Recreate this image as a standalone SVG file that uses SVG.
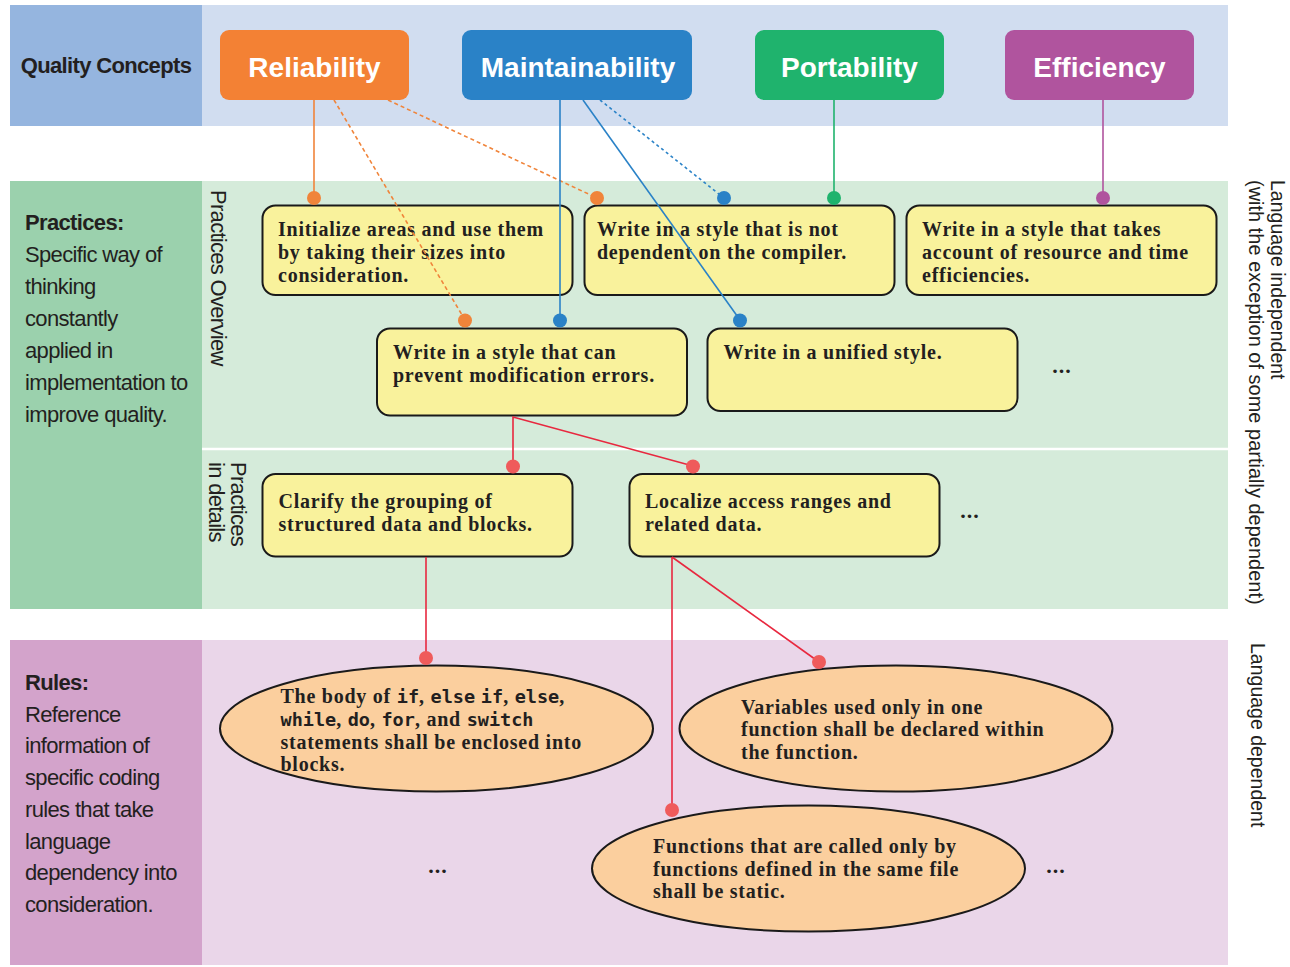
<svg xmlns="http://www.w3.org/2000/svg" width="1290" height="967" viewBox="0 0 1290 967">
<style>
.side{font-family:"Liberation Sans",Arial,sans-serif;font-size:22px;letter-spacing:-0.65px;fill:#231f20}
.b{font-weight:bold}
.concept{font-family:"Liberation Sans",Arial,sans-serif;font-size:28px;font-weight:bold;fill:#ffffff;text-anchor:middle}
.box{fill:#f9f29c;stroke:#1a1a1a;stroke-width:2}
.ell{fill:#fbcf9e;stroke:#1a1a1a;stroke-width:2}
.t{font-family:"Liberation Serif","Times New Roman",serif;font-size:20px;font-weight:bold;letter-spacing:0.75px;fill:#231f20}
.m{font-family:"DejaVu Sans Mono","Liberation Mono",monospace;font-size:18.5px;letter-spacing:0px}
.rot{font-family:"Liberation Sans",Arial,sans-serif;font-size:20px;fill:#231f20}
.dots{font-family:"Liberation Serif",serif;font-size:22px;font-weight:bold;fill:#231f20;text-anchor:middle;letter-spacing:1px}
.c-or{stroke:#f0843a;stroke-width:1.6;fill:none}
.c-bl{stroke:#2a82c7;stroke-width:1.6;fill:none}
.c-gr{stroke:#1fb36d;stroke-width:1.6;fill:none}
.c-pu{stroke:#b0549e;stroke-width:1.6;fill:none}
.c-rd{stroke:#e8283f;stroke-width:1.6;fill:none}
.dash{stroke-dasharray:4 3}
.dot{stroke-dasharray:3 3}
</style>

<!-- Bands -->
<g id="bands">
  <rect x="10" y="5" width="192" height="121" fill="#95b5df"/>
  <rect x="202" y="5" width="1026" height="121" fill="#d1ddf0"/>
  <rect x="10" y="181" width="192" height="428" fill="#9bd1ad"/>
  <rect x="202" y="181" width="1026" height="428" fill="#d5ebda"/>
  <line x1="202" y1="449" x2="1228" y2="449" stroke="#ffffff" stroke-width="2.5"/>
  <rect x="10" y="640" width="192" height="325" fill="#d3a3cb"/>
  <rect x="202" y="640" width="1026" height="325" fill="#ead6e9"/>
</g>

<!-- Side labels -->
<g id="label-quality">
  <text class="side b" x="106" y="73" text-anchor="middle">Quality Concepts</text>
</g>
<g id="label-practices">
  <text class="side b" x="25" y="230">Practices:</text>
  <text class="side" x="25" y="262">Specific way of</text>
  <text class="side" x="25" y="294">thinking</text>
  <text class="side" x="25" y="326">constantly</text>
  <text class="side" x="25" y="358">applied in</text>
  <text class="side" x="25" y="390">implementation to</text>
  <text class="side" x="25" y="422">improve quality.</text>
</g>
<g id="label-rules">
  <text class="side b" x="25" y="690">Rules:</text>
  <text class="side" x="25" y="721.7">Reference</text>
  <text class="side" x="25" y="753.4">information of</text>
  <text class="side" x="25" y="785.1">specific coding</text>
  <text class="side" x="25" y="816.8">rules that take</text>
  <text class="side" x="25" y="848.5">language</text>
  <text class="side" x="25" y="880.2">dependency into</text>
  <text class="side" x="25" y="912">consideration.</text>
</g>
<g id="label-overview">
  <text class="side" transform="translate(211,190) rotate(90)" style="letter-spacing:-0.7px">Practices Overview</text>
</g>
<g id="label-details">
  <text class="side" transform="translate(231,462) rotate(90)" style="letter-spacing:-0.7px">Practices</text>
  <text class="side" transform="translate(209,462) rotate(90)" style="letter-spacing:-0.7px">in details</text>
</g>
<g id="label-independent">
  <text class="rot" transform="translate(1271,180) rotate(90)" style="font-size:19.5px">Language independent</text>
  <text class="rot" transform="translate(1249,180) rotate(90)">(with the exception of some partially dependent)</text>
</g>
<g id="label-dependent">
  <text class="rot" transform="translate(1251,643) rotate(90)" style="font-size:19.5px">Language dependent</text>
</g>

<!-- Concept nodes -->
<g id="reliability">
  <rect x="220" y="30" width="189" height="70" rx="9" fill="#f38134"/>
  <text class="concept" x="314.5" y="77">Reliability</text>
</g>
<g id="maintainability">
  <rect x="462" y="30" width="230" height="70" rx="9" fill="#2a82c7"/>
  <text class="concept" x="578" y="77">Maintainability</text>
</g>
<g id="portability">
  <rect x="755" y="30" width="189" height="70" rx="9" fill="#1fb36d"/>
  <text class="concept" x="849.5" y="77">Portability</text>
</g>
<g id="efficiency">
  <rect x="1005" y="30" width="189" height="70" rx="9" fill="#b0549e"/>
  <text class="concept" x="1099.5" y="77">Efficiency</text>
</g>

<!-- Practice nodes -->
<g id="p-initialize">
  <rect class="box" x="262.5" y="205.5" width="310" height="89.5" rx="13"/>
  <text class="t" x="278" y="236">Initialize areas and use them</text>
  <text class="t" x="278" y="259">by taking their sizes into</text>
  <text class="t" x="278" y="282">consideration.</text>
</g>
<g id="p-compiler">
  <rect class="box" x="584.5" y="205.5" width="310" height="89.5" rx="13"/>
  <text class="t" x="597" y="236">Write in a style that is not</text>
  <text class="t" x="597" y="259">dependent on the compiler.</text>
</g>
<g id="p-efficiency">
  <rect class="box" x="906.5" y="205.5" width="310" height="89.5" rx="13"/>
  <text class="t" x="922" y="236">Write in a style that takes</text>
  <text class="t" x="922" y="259">account of resource and time</text>
  <text class="t" x="922" y="282">efficiencies.</text>
</g>
<g id="p-modification">
  <rect class="box" x="377" y="328.5" width="310" height="87" rx="13"/>
  <text class="t" x="393" y="359">Write in a style that can</text>
  <text class="t" x="393" y="382">prevent modification errors.</text>
</g>
<g id="p-unified">
  <rect class="box" x="707.5" y="328.5" width="310" height="82.5" rx="13"/>
  <text class="t" x="723.5" y="359">Write in a unified style.</text>
</g>
<g id="more-overview">
  <text class="dots" x="1062" y="373">...</text>
</g>
<g id="p-grouping">
  <rect class="box" x="262.5" y="474" width="310" height="82.5" rx="13"/>
  <text class="t" x="278.5" y="508">Clarify the grouping of</text>
  <text class="t" x="278.5" y="531">structured data and blocks.</text>
</g>
<g id="p-localize">
  <rect class="box" x="629.5" y="474" width="310" height="82.5" rx="13"/>
  <text class="t" x="645" y="508">Localize access ranges and</text>
  <text class="t" x="645" y="531">related data.</text>
</g>
<g id="more-details">
  <text class="dots" x="970" y="518">...</text>
</g>

<!-- Rule nodes -->
<g id="r-blocks">
  <ellipse class="ell" cx="436.5" cy="728.5" rx="216.5" ry="63"/>
  <text class="t" x="280.5" y="703">The body of <tspan class="m">if</tspan>, <tspan class="m">else</tspan> <tspan class="m">if</tspan>, <tspan class="m">else</tspan>,</text>
  <text class="t" x="280.5" y="726"><tspan class="m">while</tspan>, <tspan class="m">do</tspan>, <tspan class="m">for</tspan>, and <tspan class="m">switch</tspan></text>
  <text class="t" x="280.5" y="748.5">statements shall be enclosed into</text>
  <text class="t" x="280.5" y="771">blocks.</text>
</g>
<g id="r-variables">
  <ellipse class="ell" cx="896" cy="728.5" rx="216.5" ry="63"/>
  <text class="t" x="741" y="713.5">Variables used only in one</text>
  <text class="t" x="741" y="736">function shall be declared within</text>
  <text class="t" x="741" y="758.5">the function.</text>
</g>
<g id="r-static">
  <ellipse class="ell" cx="808.5" cy="868.5" rx="216.5" ry="63"/>
  <text class="t" x="653" y="853">Functions that are called only by</text>
  <text class="t" x="653" y="875.5">functions defined in the same file</text>
  <text class="t" x="653" y="898">shall be static.</text>
</g>
<g id="more-rules">
  <text class="dots" x="438" y="873">...</text>
  <text class="dots" x="1056" y="873">...</text>
</g>

<!-- Connectors (drawn over nodes) -->
<g id="connectors">
  <line class="c-or" x1="314" y1="100" x2="314" y2="198"/>
  <line class="c-or dash" x1="334" y1="100" x2="465" y2="320"/>
  <line class="c-or dash" x1="388" y1="100" x2="597" y2="198"/>
  <line class="c-bl" x1="560" y1="100" x2="560" y2="320"/>
  <line class="c-bl" x1="583" y1="100" x2="740" y2="320"/>
  <line class="c-bl dot" x1="600" y1="100" x2="724" y2="198"/>
  <line class="c-gr" x1="834" y1="100" x2="834" y2="198"/>
  <line class="c-pu" x1="1103" y1="100" x2="1103" y2="198"/>
  <polyline class="c-rd" points="513,466 513,417 693,466"/>
  <line class="c-rd" x1="426" y1="557" x2="426" y2="658"/>
  <line class="c-rd" x1="672" y1="557" x2="672" y2="810"/>
  <line class="c-rd" x1="672" y1="557" x2="819" y2="662"/>
  <g fill="#f0843a">
    <circle cx="314" cy="198" r="7"/>
    <circle cx="465" cy="320.5" r="7"/>
    <circle cx="597" cy="198" r="7"/>
  </g>
  <g fill="#2a82c7">
    <circle cx="560" cy="320.5" r="7"/>
    <circle cx="740" cy="320.5" r="7"/>
    <circle cx="724" cy="198" r="7"/>
  </g>
  <circle cx="834" cy="198" r="7" fill="#1fb36d"/>
  <circle cx="1103" cy="198" r="7" fill="#b0549e"/>
  <g fill="#ef5b5b">
    <circle cx="513" cy="466.5" r="7"/>
    <circle cx="693" cy="466.5" r="7"/>
    <circle cx="426" cy="658" r="7"/>
    <circle cx="819" cy="662" r="7"/>
    <circle cx="672" cy="810" r="7"/>
  </g>
</g>
</svg>
